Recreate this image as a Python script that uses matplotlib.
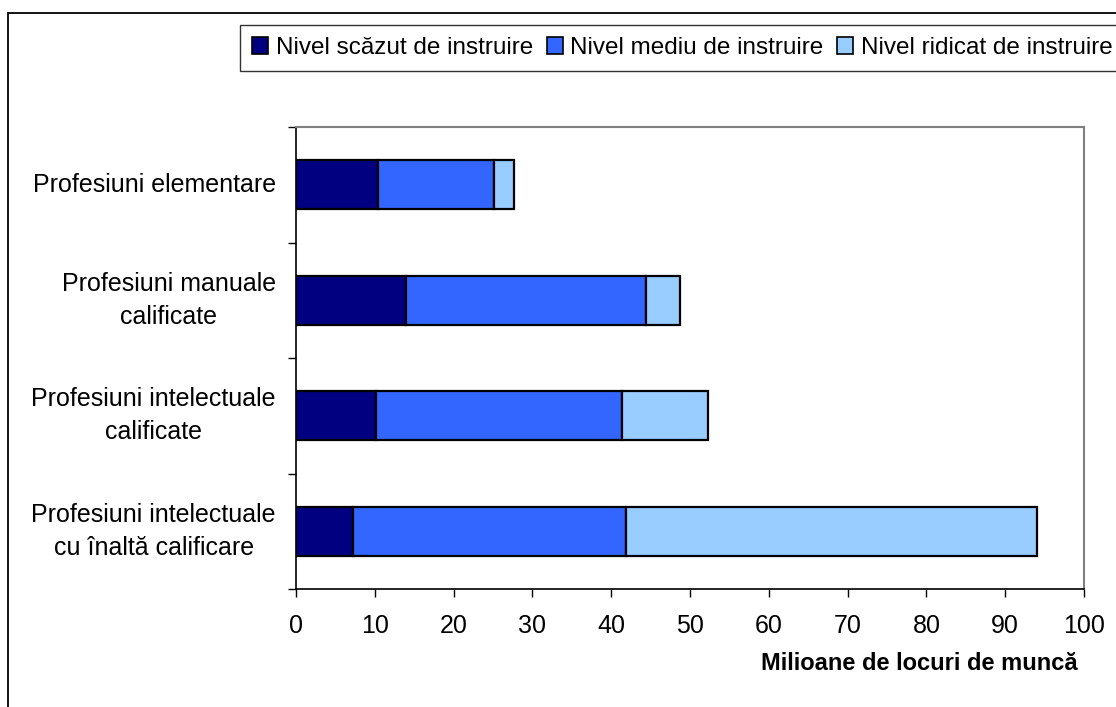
import matplotlib.pyplot as plt
from matplotlib.patches import Patch, Rectangle

plt.rcParams['font.family'] = ['Liberation Sans', 'DejaVu Sans']

categorii = ["Profesiuni elementare",
             "Profesiuni manuale\ncalificate",
             "Profesiuni intelectuale\ncalificate",
             "Profesiuni intelectuale\ncu înaltă calificare"]
nivel_scazut = [10.4, 14.0, 10.2, 7.2]
nivel_mediu = [14.7, 30.4, 31.2, 34.7]
nivel_ridicat = [2.6, 4.3, 10.9, 52.1]
serii = ["Nivel scăzut de instruire", "Nivel mediu de instruire", "Nivel ridicat de instruire"]
culori = ["#000080", "#3366FF", "#99CCFF"]
xticks = list(range(0, 101, 10))

fig = plt.figure(figsize=(11.16, 7.07), dpi=100)
ax = fig.add_axes([296 / 1116, 1 - 589 / 707, 788 / 1116, 462 / 707])

y = list(range(len(categorii)))
stanga = [0] * len(categorii)
for vals, c in zip([nivel_scazut, nivel_mediu, nivel_ridicat], culori):
    ax.barh(y, vals, left=stanga, height=0.42, color=c, edgecolor="black", linewidth=1.6)
    stanga = [a + b for a, b in zip(stanga, vals)]

ax.set_xlim(0, 100)
ax.set_ylim(len(categorii) - 0.5, -0.5)
ax.set_xticks(xticks)
ax.set_yticks(y)
ax.set_yticklabels(categorii, multialignment="center", linespacing=1.45, va="center")
ax.set_yticks([i + 0.5 for i in range(-1, len(categorii))], minor=True)
ax.tick_params(axis="y", which="major", length=0, pad=14.5, labelsize=18)
ax.tick_params(axis="y", which="minor", length=6, width=1, direction="out")
ax.tick_params(axis="x", length=6, width=1, direction="out", pad=12, labelsize=18)

for s in ["top", "right"]:
    ax.spines[s].set_color("#808080")
    ax.spines[s].set_linewidth(1.5)
for s in ["left", "bottom"]:
    ax.spines[s].set_color("black")
    ax.spines[s].set_linewidth(1.2)

fig.text(1078 / 1116, 1 - 663 / 707, "Milioane de locuri de muncă", ha="right", va="center",
         fontsize=17, fontweight="bold")

handles = [Patch(facecolor=c, edgecolor="black", linewidth=1.2) for c in culori]
leg = fig.legend(handles, serii, loc="upper left", bbox_to_anchor=(240 / 1116, 1 - 25 / 707),
                 ncol=3, fontsize=17.5, frameon=True, fancybox=False, borderaxespad=0,
                 handlelength=0.66, handleheight=0.66, handletextpad=0.32, columnspacing=0.55,
                 borderpad=0.5)
leg.get_frame().set_edgecolor("black")
leg.get_frame().set_linewidth(1.0)

fig.patches.append(Rectangle((8 / 1116, -0.1), 1.5, 1.1 - 13 / 707, transform=fig.transFigure,
                             fill=False, edgecolor="black", linewidth=1.3))

fig.savefig("out.png", dpi=100)
